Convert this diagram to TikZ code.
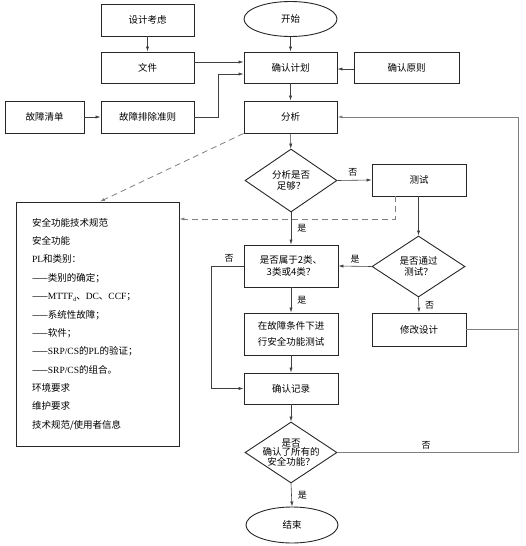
\documentclass[tikz,border=0pt]{standalone}
\usepackage{fontspec}
\setmainfont{Noto Sans CJK SC}
\newfontfamily\lat{Liberation Serif}
\usetikzlibrary{shapes.geometric,arrows.meta}
\begin{document}
\begin{tikzpicture}[x=1pt,y=-1pt,
  font=\fontsize{9.5}{11}\selectfont,
  box/.style={draw=black!85, line width=0.9pt, minimum width=93pt, minimum height=32pt, inner sep=0pt, align=center},
  ell/.style={ellipse, draw=black!85, line width=0.9pt, minimum width=93pt, minimum height=35pt, inner sep=0pt},
  dia/.style={diamond, draw=black!85, line width=0.9pt, inner sep=0pt, minimum width=92pt, minimum height=62pt},
  dtext/.style={align=center, font=\fontsize{9.5}{10.5}\selectfont},
  con/.style={draw=black!75, line width=0.6pt},
  arr/.style={con, -{Latex[length=5pt,width=3.2pt]}},
  dashline/.style={draw=black!50, line width=0.8pt, dash pattern=on 6pt off 4pt},
  loopline/.style={draw=black!50, line width=0.8pt},
  lbl/.style={font=\fontsize{9}{10}\selectfont, inner sep=0pt}]
\useasboundingbox (0,0) rectangle (525,546);

% nodes
\node[box] (kaolv) at (147.5,20) {设计考虑};
\node[ell] (start) at (290.5,19) {开始};
\node[box, minimum height=31pt] (wenjian) at (147.5,67.5) {文件};
\node[box, minimum height=31pt] (jihua) at (290.5,67.5) {确认计划};
\node[box, minimum height=31pt, minimum width=105pt] (yuanze) at (406.5,67.5) {确认原则};
\node[box, minimum width=79pt] (qingdan) at (44.5,117) {故障清单};
\node[box] (zhunze) at (147.5,117) {故障排除准则};
\node[box] (fenxi) at (290.5,117) {分析};
\node[dia, minimum height=63pt, label={[dtext]center:分析是否\\足够？}] (d1) at (291,180.5) {};
\node[box, minimum width=94pt] (ceshi) at (419,180) {测试};
\node[box, minimum width=163pt, minimum height=244pt, align=left, text width=131pt, inner xsep=16pt,
      font=\fontsize{9.5}{18.35}\selectfont] (spec) at (97.5,324)
  {安全功能技术规范\\
   安全功能\\
   {\lat PL}和类别：\\
   ——类别的确定；\\
   ——{\lat MTTF}\raisebox{-2pt}{\fontsize{6}{6}\selectfont\lat d}、{\lat DC}、{\lat CCF}；\\
   ——系统性故障；\\
   ——软件；\\
   ——{\lat SRP/CS}的{\lat PL}的验证；\\
   ——{\lat SRP/CS}的组合。\\
   环境要求\\
   维护要求\\
   技术规范/使用者信息};
\node[box, minimum width=94pt, minimum height=42pt, font=\fontsize{9.5}{11.5}\selectfont] (d4) at (291,266) {是否属于2类、\\3类或4类？};
\node[dia, minimum width=93pt, minimum height=61pt, label={[dtext]center:是否通过\\测试？}] (d2) at (418.5,266.5) {};
\node[box, minimum width=94pt, minimum height=33pt] (xiugai) at (419,329.5) {修改设计};
\node[box, minimum width=94pt, minimum height=42pt, font=\fontsize{9.5}{15.5}\selectfont] (guzhang) at (291,334) {在故障条件下进\\行安全功能测试};
\node[box, minimum width=94pt, minimum height=31pt] (jilu) at (291,388.5) {确认记录};
\node[dia, minimum height=61pt, label={[dtext, font=\fontsize{9.5}{9.6}\selectfont]center:是否\\确认了所有的\\安全功能？}] (d3) at (291,452.5) {};
\node[ell, minimum width=92pt, minimum height=36pt] (end) at (292,525) {结束};

\coordinate (rt) at (518,117);

% connectors
\draw[arr] (kaolv) -- (wenjian);
\draw[arr] (start) -- (jihua);
\draw[arr] ([yshift=5.5pt]wenjian.east) -- ([yshift=5.5pt]jihua.west);
\draw[arr] (zhunze.east) -- ++(24,0) |- ([yshift=-6.5pt]jihua.west);
\draw[arr] ([yshift=-1.5pt]yuanze.west) -- ([yshift=-1.5pt]jihua.east);
\draw[arr] (jihua) -- (fenxi);
\draw[arr] (qingdan) -- (zhunze);
\draw[arr] (fenxi) -- (d1);
\draw[dashline, -{Latex[length=5pt,width=3.2pt]}] (fenxi.south west) -- ([xshift=2.5pt]spec.north);
\draw[arr] (d1.east) -- (ceshi.west) node[lbl, pos=0.45, above=4pt] {否};
\draw[dashline, -{Latex[length=5pt,width=3.2pt]}] ([xshift=-24pt]ceshi.south) |- ([yshift=105pt]spec.east);
\draw[arr] (d1.south) -- (d4.north) node[lbl, midway, right=6pt] {是};
\draw[arr] (ceshi.south -| d2.north) -- (d2.north);
\draw[arr] (d2.west) -- (d4.east) node[lbl, midway, above=3pt] {是};
\draw[arr] (d2.south) -- (xiugai.north) node[lbl, midway, right=6pt] {否};
\draw[arr] (d4.west) -- ++(-32,0) node[lbl, pos=0.45, above=3pt] {否} |- (jilu.west);
\draw[arr] (d4.south) -- (guzhang.north) node[lbl, midway, right=6pt] {是};
\draw[arr] (guzhang) -- (jilu);
\draw[arr] (jilu) -- (d3);
\draw[arr] (d3.south) -- (end.north) node[lbl, midway, right=6pt] {是};
\draw[loopline, -{Latex[length=5pt,width=3.2pt]}] (d3.east) -| (rt) -- (fenxi.east);
\draw[loopline] (xiugai.east) -- (xiugai.east -| rt);
\node[lbl] (nolbl) at (426,445) {否};
\end{tikzpicture}
\end{document}
